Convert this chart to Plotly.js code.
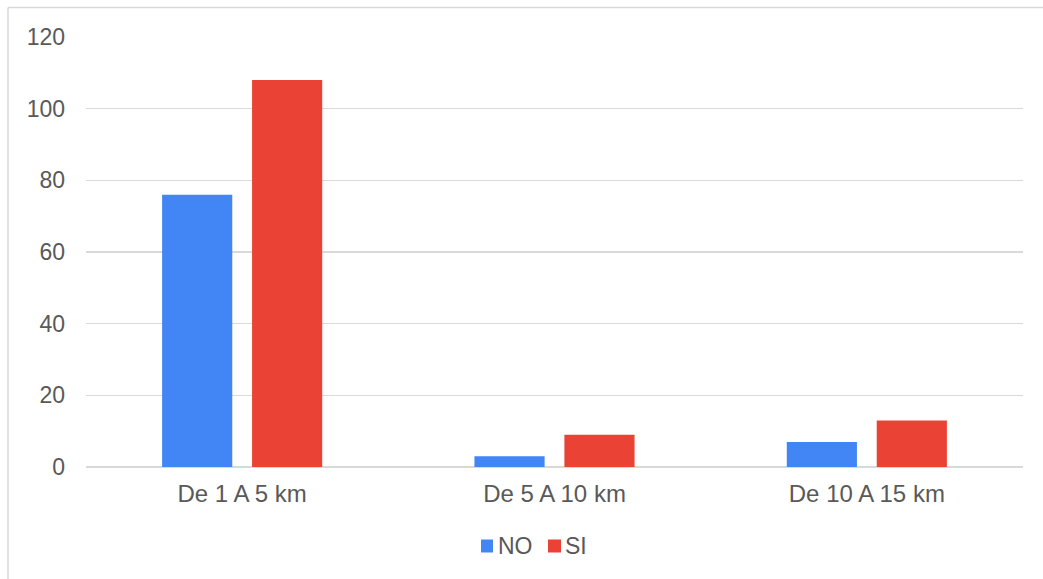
<!DOCTYPE html>
<html>
<head>
<meta charset="utf-8">
<script src="https://cdn.plot.ly/plotly-3.0.1.min.js"></script>
<style>
  html, body { margin: 0; padding: 0; background: #ffffff; }
  #chart { width: 1043px; height: 579px; }
</style>
</head>
<body>
<div id="chart"></div>
<script>
// Distance ranges and answer counts per group
const categories = ["De 1 A 5 km", "De 5 A 10 km", "De 10 A 15 km"];
const seriesNames = ["NO", "SI"];
const seriesColors = ["#4285f4", "#ea4335"];
const noValues = [76, 3, 7];
const siValues = [108, 9, 13];
const yTicks = [0, 20, 40, 60, 80, 100, 120];

const W = 1043, H = 579;
const margin = { l: 86, r: 20, t: 37, b: 112 };
const plotW = W - margin.l - margin.r;
const plotH = H - margin.t - margin.b;
// convert pixel coordinates to paper fractions for frame and legend
const px = x => (x - margin.l) / plotW;
const py = y => (H - margin.b - y) / plotH;

const textColor = "#595959";
const gridColor = "#d9d9d9";
const fontFamily = "Liberation Sans, Arial, sans-serif";
const fontSize = 23;

const traces = [
  { type: "bar", name: seriesNames[0], x: categories, y: noValues,
    marker: { color: seriesColors[0] }, hoverinfo: "x+y+name" },
  { type: "bar", name: seriesNames[1], x: categories, y: siValues,
    marker: { color: seriesColors[1] }, hoverinfo: "x+y+name" }
];

const frameLine = { color: gridColor, width: 1.5 };

// compact legend below the axis: a small square followed by the series name
const legendItems = [
  { box: [481, 493], textX: 496 },
  { box: [548, 561], textX: 563 }
];
const legendY = 546;
const legendShapes = legendItems.map((it, i) => ({
  type: "rect", xref: "paper", yref: "paper",
  x0: px(it.box[0]), x1: px(it.box[1]),
  y0: py(legendY + 6.5), y1: py(legendY - 6.5),
  fillcolor: seriesColors[i], line: { width: 0 }
}));
const legendLabels = legendItems.map((it, i) => ({
  xref: "paper", yref: "paper",
  x: px(it.textX), y: py(legendY),
  xanchor: "left", yanchor: "middle",
  text: seriesNames[i], showarrow: false,
  font: { family: fontFamily, size: fontSize, color: textColor }
}));

const layout = {
  width: W, height: H,
  margin: margin,
  paper_bgcolor: "#ffffff",
  plot_bgcolor: "#ffffff",
  font: { family: fontFamily, size: fontSize, color: textColor },
  barmode: "group",
  bargap: 0.424,
  bargroupgap: 0.22,
  xaxis: {
    type: "category",
    showgrid: false,
    showline: false,
    zeroline: false,
    ticks: "",
    ticklabelstandoff: 10,
    tickfont: { family: fontFamily, size: 24, color: textColor }
  },
  yaxis: {
    range: [0, 120],
    tickvals: yTicks,
    ticktext: yTicks.map(String),
    showgrid: true,
    gridcolor: gridColor,
    gridwidth: 1.5,
    zeroline: true,
    zerolinecolor: gridColor,
    zerolinewidth: 1.5,
    showline: false,
    ticks: "",
    ticklabelstandoff: 20,
    tickfont: { family: fontFamily, size: fontSize, color: textColor }
  },
  showlegend: false,
  annotations: legendLabels,
  shapes: [
    { type: "line", xref: "paper", yref: "paper",
      x0: px(8), x1: px(8), y0: py(579), y1: py(7.5), line: frameLine },
    { type: "line", xref: "paper", yref: "paper",
      x0: px(8), x1: px(1043), y0: py(7.5), y1: py(7.5), line: frameLine }
  ].concat(legendShapes)
};

Plotly.newPlot("chart", traces, layout, { displayModeBar: false, staticPlot: true });
</script>
</body>
</html>
